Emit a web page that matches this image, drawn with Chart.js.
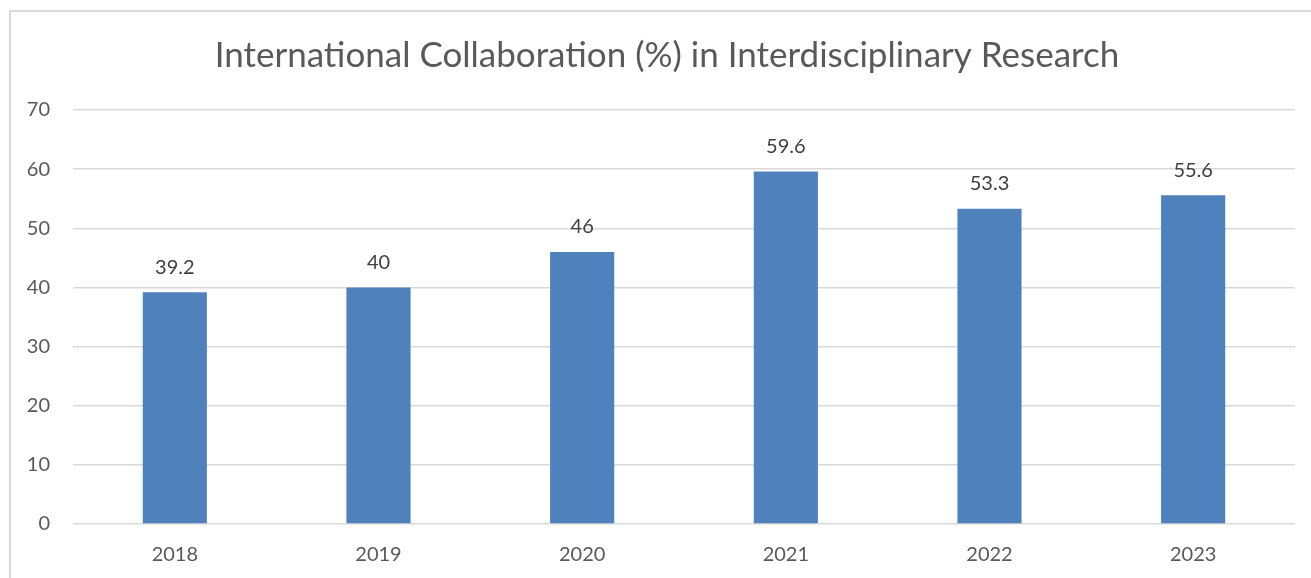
<!DOCTYPE html>
<html>
<head>
<meta charset="utf-8">
<script src="https://cdn.jsdelivr.net/npm/chart.js@4.4.1/dist/chart.umd.min.js"></script>
<style>
  html, body { margin: 0; padding: 0; background: #fff; overflow: hidden; }
  #frame { position: absolute; left: 9px; top: 10px; width: 1400px; height: 700px; border: 2px solid #d9d9d9; box-sizing: border-box; }
  #wrap { position: absolute; left: 0; top: 0; width: 1311px; height: 578px; }
</style>
</head>
<body>
<div id="frame"></div>
<div id="wrap"><canvas id="chart"></canvas></div>
<script>
// chart data
const years = ['2018', '2019', '2020', '2021', '2022', '2023'];
const collaboration = [39.2, 40, 46, 59.6, 53.3, 55.6];
const yTicks = [0, 10, 20, 30, 40, 50, 60, 70];

const chartTitle = 'International Collaboration (%) in Interdisciplinary Research';
const fontFamily = "Lato, 'Open Sans', 'Liberation Sans', sans-serif";

// title + value labels drawn by hand
const labelsPlugin = {
  id: 'labelsPlugin',
  afterDatasetsDraw(chart) {
    const ctx = chart.ctx;
    ctx.save();
    ctx.fillStyle = '#404040';
    ctx.font = '20px ' + fontFamily;
    ctx.textAlign = 'center';
    ctx.textBaseline = 'middle';
    const meta = chart.getDatasetMeta(0);
    meta.data.forEach((bar, i) => {
      ctx.fillText(String(collaboration[i]), bar.x, bar.y - 25);
    });
    ctx.fillStyle = '#595959';
    ctx.font = '35px ' + fontFamily;
    ctx.fillText(chartTitle, 667, 56);
    ctx.restore();
  }
};

const ctx = document.getElementById('chart').getContext('2d');
new Chart(ctx, {
  type: 'bar',
  data: {
    labels: years,
    datasets: [{
      data: collaboration,
      backgroundColor: '#4f81bd',
      borderWidth: 0,
      barPercentage: 0.63,
      categoryPercentage: 0.5
    }]
  },
  options: {
    responsive: true,
    maintainAspectRatio: false,
    animation: false,
    layout: { padding: { top: 110, right: 16, left: 0, bottom: 0 } },
    plugins: {
      legend: { display: false },
      title: { display: false },
      tooltip: { enabled: false }
    },
    scales: {
      x: {
        grid: { display: false, drawTicks: false },
        border: { display: false },
        ticks: { color: '#595959', font: { family: fontFamily, size: 20 }, padding: 19, maxRotation: 0 },
        afterFit(scale) { scale.height = 54; }
      },
      y: {
        min: 0,
        max: 70,
        afterBuildTicks(scale) { scale.ticks = yTicks.map(v => ({ value: v })); },
        grid: { color: '#d9d9d9', lineWidth: 1.5, drawTicks: false },
        border: { display: false },
        ticks: { color: '#595959', font: { family: fontFamily, size: 20 }, padding: 23 },
        afterFit(scale) { scale.width = 73; }
      }
    }
  },
  plugins: [labelsPlugin]
});
</script>
</body>
</html>
